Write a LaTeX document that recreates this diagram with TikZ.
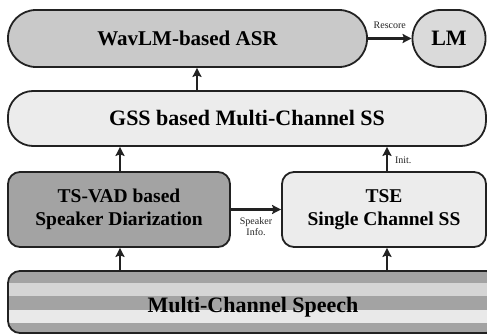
\documentclass[tikz,border=0pt]{standalone}
\usepackage{fontspec}
\setmainfont{Liberation Serif}
\usetikzlibrary{arrows.meta}
\definecolor{edgec}{HTML}{222222}
\definecolor{asrfill}{HTML}{C9C9C9}
\definecolor{lmfill}{HTML}{DADADA}
\definecolor{lightfill}{HTML}{ECECEC}
\definecolor{darkfill}{HTML}{A3A3A3}
\definecolor{bandA}{HTML}{D5D5D5}
\definecolor{bandB}{HTML}{E9E9E9}
\tikzset{
  blk/.style={draw=edgec, line width=1.8pt, align=center, inner sep=0pt,
    font=\bfseries\fontsize{21}{23}\selectfont},
  arr/.style={draw=edgec, line width=2.2pt, -{Stealth[length=9pt,width=9pt,inset=1.5pt]}},
  lbl/.style={font=\fontsize{10}{11}\selectfont, text=edgec, align=center, inner sep=0pt}
}
\begin{document}
\begin{tikzpicture}[x=1pt,y=-1pt]
\useasboundingbox (0,0) rectangle (487,334);
\clip (0,0) rectangle (487,334);

% recognition stage
\node[blk, fill=asrfill, rounded corners=28pt, minimum width=359pt, minimum height=57pt]
  (asr) at (187.5,38.5) {WavLM-based ASR};
\node[blk, fill=lmfill, rounded corners=28pt, minimum width=73pt, minimum height=57pt,
  font=\bfseries\fontsize{22}{24}\selectfont]
  (lm) at (449,38.5) {LM};

% separation stage
\node[blk, fill=lightfill, rounded corners=25pt, minimum width=478pt, minimum height=55pt,
  font=\bfseries\fontsize{22}{24}\selectfont]
  (gss) at (247,118.5) {GSS based Multi-Channel SS};

% diarization and extraction
\node[blk, fill=darkfill, rounded corners=12pt, minimum width=222pt, minimum height=75pt,
  font=\bfseries\fontsize{19.5}{23}\selectfont]
  (vad) at (119,209.5) {TS-VAD based\\Speaker Diarization};
\node[blk, fill=lightfill, rounded corners=12pt, minimum width=204pt, minimum height=75pt,
  font=\bfseries\fontsize{19.5}{23}\selectfont]
  (tse) at (384,209.5) {TSE\\Single Channel SS};

% striped input block
\node[blk, rounded corners=12pt, minimum width=490pt, minimum height=62pt,
  font=\bfseries\fontsize{22}{24}\selectfont,
  path picture={
    \begin{scope}[sharp corners]
    \fill[darkfill] (path picture bounding box.north west) rectangle (path picture bounding box.south east);
    \fill[bandA] ([yshift=-12pt]path picture bounding box.north west) rectangle ([yshift=-25pt]path picture bounding box.north east);
    \fill[bandB] ([yshift=-39pt]path picture bounding box.north west) rectangle ([yshift=-52pt]path picture bounding box.north east);
    \end{scope}
  }]
  (speech) at (253,302) {\raisebox{-10pt}[0pt][0pt]{Multi-Channel Speech}};

% connectors
\draw[arr] (asr.east) -- (lm.west) node[lbl, midway, above=9pt] {Rescore};
\draw[arr] (gss.north -| 197,0) -- (asr.south -| 197,0);
\draw[arr] (vad.north -| 120,0) -- (gss.south -| 120,0);
\draw[arr] (tse.north -| 387,0) -- (gss.south -| 387,0)
  node[lbl, pos=0.45, right=7pt] {Init.};
\draw[arr] (vad.east) -- (tse.west)
  node[lbl, midway, below=7pt] {Speaker\\Info.};
\draw[arr] (speech.north -| 120,0) -- (vad.south -| 120,0);
\draw[arr] (speech.north -| 387,0) -- (tse.south -| 387,0);
\end{tikzpicture}
\end{document}
